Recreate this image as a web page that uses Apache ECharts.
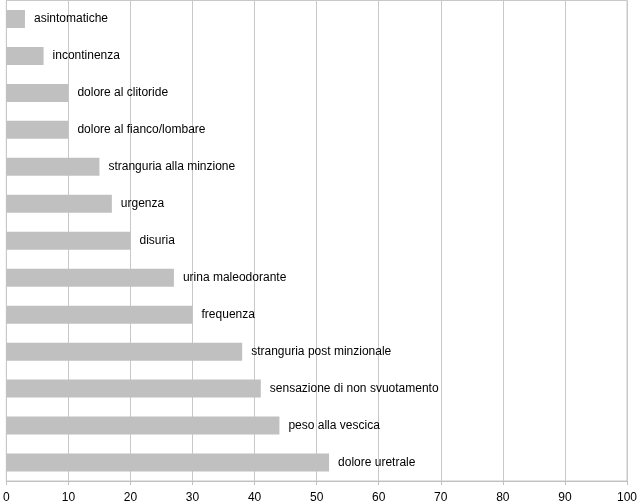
<!DOCTYPE html>
<html>
<head>
<meta charset="utf-8">
<script src="https://cdn.jsdelivr.net/npm/echarts@6/dist/echarts.min.js"></script>
<style>html,body{margin:0;padding:0;background:#fff;}#c{width:640px;height:504px;}</style>
</head>
<body>
<div id="c"></div>
<script>
var categories = ["asintomatiche","incontinenza","dolore al clitoride","dolore al fianco/lombare","stranguria alla minzione","urgenza","disuria","urina maleodorante","frequenza","stranguria post minzionale","sensazione di non svuotamento","peso alla vescica","dolore uretrale"];
var values = [3,6,10,10,15,17,20,27,30,38,41,44,52];
var xMin = 0, xMax = 100, xInterval = 10;

var chart = echarts.init(document.getElementById('c'), null, {renderer:'canvas'});
chart.setOption({
  animation: false,
  backgroundColor: '#ffffff',
  textStyle: {fontFamily: 'Arial, "Liberation Sans", sans-serif'},
  grid: {left: 4, right: 9, top: 0.5, bottom: 23, show: true, borderColor: '#c8c8c8', borderWidth: 1, containLabel: false},
  xAxis: {
    type: 'value', min: xMin, max: xMax, interval: xInterval,
    axisLine: {show: true, lineStyle: {color: '#c0c0c0'}},
    axisTick: {show: true, length: 4, lineStyle: {color: '#c0c0c0'}},
    axisLabel: {color: '#000', fontSize: 12, margin: 11, fontFamily: 'Arial, "Liberation Sans", sans-serif'},
    splitLine: {show: true, lineStyle: {color: '#c8c8c8'}}
  },
  yAxis: {
    type: 'category', data: categories, inverse: true,
    axisLine: {show: true, lineStyle: {color: '#c8c8c8'}},
    axisTick: {show: false},
    axisLabel: {show: false},
    splitLine: {show: false}
  },
  series: [{
    type: 'bar', data: values, barWidth: 18,
    itemStyle: {color: '#c0c0c0'},
    label: {show: true, position: 'right', distance: 9, color: '#000', fontSize: 12,
      fontFamily: 'Arial, "Liberation Sans", sans-serif',
      formatter: function(p){ return categories[p.dataIndex]; }}
  }]
});
</script>
</body>
</html>
